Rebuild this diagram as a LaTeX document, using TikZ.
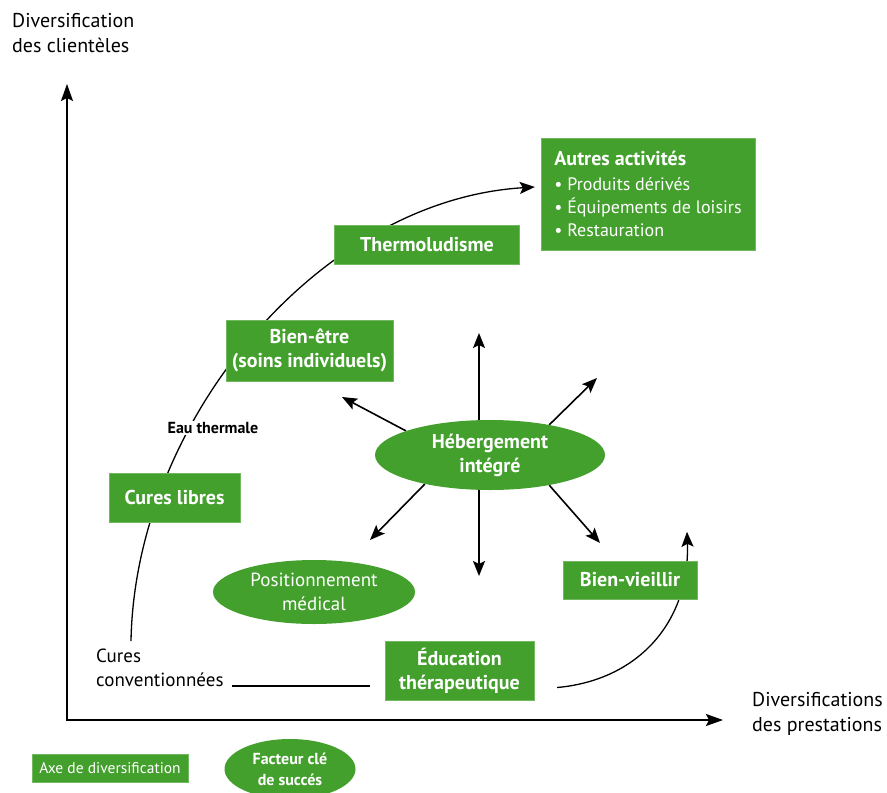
\documentclass[tikz,border=0pt]{standalone}
\usepackage{fontspec}
\setmainfont{PT Sans}
\usetikzlibrary{shapes.geometric,arrows.meta}
\definecolor{vertthermal}{RGB}{67,160,44}
\newcommand\elementliste[1]{{\mdseries\fontsize{18}{23}\selectfont • #1}}
\pgfdeclarelayer{fond}
\pgfsetlayers{fond,main}
\tikzset{
	axe/.style={shape=rectangle,fill=vertthermal,draw=vertthermal!75!white,text=white,align=center,inner sep=0pt,font=\bfseries\fontsize{20}{24}\selectfont},
	facteur/.style={shape=ellipse,fill=vertthermal,text=white,align=center,inner sep=0pt},
	fleche/.style={-{Stealth[length=15pt,width=12pt,inset=3pt]},line width=1.6pt},
	courbe/.style={-{Stealth[length=15pt,width=12pt,inset=3pt]},line width=1.3pt},
	axes/.style={{Stealth[length=17pt,width=12pt,inset=3pt]}-{Stealth[length=17pt,width=12pt,inset=3pt]},line width=1.8pt},
	texte/.style={align=left,inner sep=0pt,font=\fontsize{20}{25}\selectfont},
}
\begin{document}
\begin{tikzpicture}[x=1pt,y=-1pt]
	\useasboundingbox (0,0) rectangle (887,793);
	% axes
	\coordinate (origine) at (67,720);
	\coordinate (ymax) at (67,84);
	\coordinate (xmax) at (723,720);
	\draw[axes] (ymax) -- (origine) -- (xmax);
	\node[texte,anchor=north west](clienteles) at (12,13) {Diversification\\des clientèles};
	\node[texte,anchor=north west](prestations) at (752,692) {Diversifications\\des prestations};
	% axes de diversification
	\node[axe,minimum width=185pt,minimum height=39pt](thermo) at (427,245) {Thermoludisme};
	\node[axe,minimum width=214pt,minimum height=112pt,align=left,font=\bfseries\fontsize{20}{23}\selectfont](autres) at (648,194) {Autres activités\\[2pt]\elementliste{Produits dérivés}\\\elementliste{Équipements de loisirs}\\\elementliste{Restauration}};
	\node[axe,minimum width=167pt,minimum height=61pt](bienetre) at (309.5,350.5) {Bien-être\\(soins individuels)};
	\node[axe,minimum width=131pt,minimum height=49pt](libres) at (174.5,497.5) {Cures libres};
	\node[axe,minimum width=134pt,minimum height=38pt](vieillir) at (630,580) {Bien-vieillir};
	\node[axe,minimum width=149pt,minimum height=59pt](education) at (459.5,670.5) {Éducation\\thérapeutique};
	% facteurs
	\node[facteur,minimum width=230pt,minimum height=70pt,font=\bfseries\fontsize{20}{24}\selectfont](hebergement) at (490,455) {Hébergement\\intégré};
	\node[facteur,minimum width=202pt,minimum height=64pt,font=\fontsize{19}{24}\selectfont](medical) at (314,592) {Positionnement\\médical};
	\node[texte,anchor=north west,font=\fontsize{19}{24}\selectfont](conventionnees) at (96,649) {Cures\\conventionnées};
	\node[fill=white,inner sep=1pt,font=\bfseries\fontsize{16}{18}\selectfont](eau) at (213,428) {Eau thermale};
	% legende
	\node[axe,minimum width=156pt,minimum height=28pt,font=\fontsize{15.5}{18}\selectfont](legaxe) at (110,768) {Axe de diversification};
	\node[facteur,minimum width=131pt,minimum height=60pt,font=\bfseries\fontsize{16}{21}\selectfont](legfacteur) at (290,769) {Facteur clé\\de succés};
	\begin{pgfonlayer}{fond}
		\coordinate (depart) at (131,641);
		\coordinate (finconv) at (370,686);
		\coordinate (haut) at (479,333);
		\coordinate (bas) at (479,576);
		\coordinate (hautgauche) at (342,397);
		\coordinate (hautdroite) at (597,378);
		\coordinate (basgauche) at (370,540);
		\coordinate (basdroite) at (600,543);
		\draw[courbe] (depart) .. controls (135,420) and (320,200) .. ([shift={(-6pt,7pt)}]autres.west);
		\draw[courbe] ([shift={(23pt,-17pt)}]education.east) .. controls (640,680) and (690,620) .. ([shift={(57pt,29pt)}]vieillir.north);
		\draw[line width=1.3pt,shorten <=8pt] (conventionnees.east |- finconv) -- (finconv);
		\draw[fleche] (haut |- hebergement.center) -- (haut);
		\draw[fleche] (bas |- hebergement.center) -- (bas);
		\draw[fleche] (hebergement.164) -- (hautgauche);
		\draw[fleche] (hebergement.27) -- (hautdroite);
		\draw[fleche] (hebergement.204) -- (basgauche);
		\draw[fleche] (hebergement.333) -- (basdroite);
	\end{pgfonlayer}
\end{tikzpicture}
\end{document}
